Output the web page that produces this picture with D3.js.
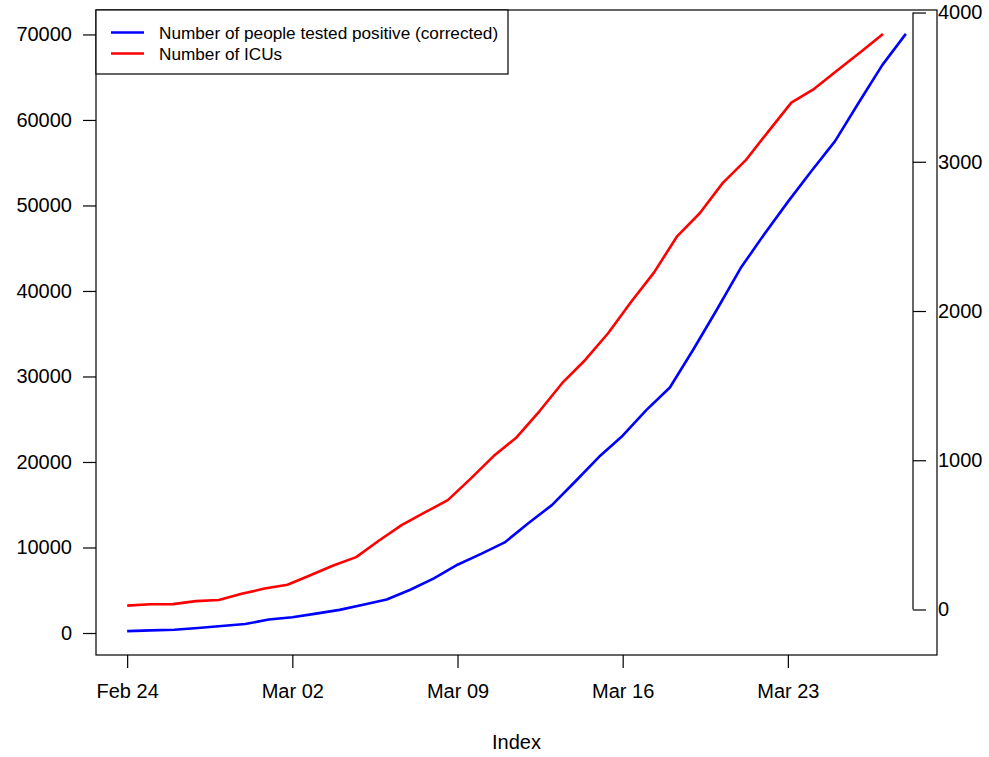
<!DOCTYPE html>
<html><head><meta charset="utf-8">
<script src="https://cdn.jsdelivr.net/npm/d3@7"></script>
<style>
body{margin:0;background:#fff}
svg{display:block;font-family:"Liberation Sans",Arial,Helvetica,sans-serif}
</style></head>
<body>
<svg id="c" width="989" height="757"></svg>
<script>
// ---- data ----
const dates = ["2020-02-24","2020-02-25","2020-02-26","2020-02-27","2020-02-28","2020-02-29",
  "2020-03-01","2020-03-02","2020-03-03","2020-03-04","2020-03-05","2020-03-06","2020-03-07",
  "2020-03-08","2020-03-09","2020-03-10","2020-03-11","2020-03-12","2020-03-13","2020-03-14",
  "2020-03-15","2020-03-16","2020-03-17","2020-03-18","2020-03-19","2020-03-20","2020-03-21",
  "2020-03-22","2020-03-23","2020-03-24","2020-03-25","2020-03-26","2020-03-27","2020-03-28"];
const positives = [221,311,385,588,821,1049,1577,1835,2263,2706,3296,3916,5061,6387,7985,9250,
  10590,12839,14955,17750,20603,23073,26062,28710,33190,37860,42681,46638,50418,54030,57521,
  62013,66414,70065];
const icus = [26,35,36,56,64,105,140,166,229,295,351,462,567,650,733,877,1028,1153,1328,1518,
  1672,1851,2060,2257,2498,2655,2857,3009,3204,3396,3489,3612,3732,3856];
const xTickDates = ["2020-02-24","2020-03-02","2020-03-09","2020-03-16","2020-03-23"];
const xTickLabels = ["Feb 24","Mar 02","Mar 09","Mar 16","Mar 23"];
const leftTicks = [0,10000,20000,30000,40000,50000,60000,70000];
const rightTicks = [0,1000,2000,3000,4000];
const legendLabels = ["Number of people tested positive (corrected)","Number of ICUs"];
const seriesColors = ["#0000ff","#ff0000"];

// ---- layout ----
const L = 96, R = 937, T = 10, B = 655;
const svg = d3.select("#c");
const parse = d3.utcParse("%Y-%m-%d");
const dd = dates.map(parse);
const span = (dd[dd.length-1] - dd[0]);
const x = d3.scaleUtc()
  .domain([new Date(+dd[0] - 0.04*span), new Date(+dd[dd.length-1] + 0.04*span)])
  .range([L, R]);
const yl = d3.scaleLinear().domain([-2573, 72859]).range([B, T]);
// secondary series: own index scale (1..n, xlim extended by one)
const n = icus.length;
const xr = d3.scaleLinear().domain([1 - 0.04*n, (n+1) + 0.04*n]).range([L, R]);
const yr = d3.scaleLinear().domain([-305, 4017]).range([B, T]);

const FS = 20;

// lines
svg.append("path")
  .datum(positives.map((v,i)=>[dd[i], v]))
  .attr("fill","none").attr("stroke",seriesColors[0]).attr("stroke-width",2.6)
  .attr("stroke-linejoin","round")
  .attr("d", d3.line().x(d=>x(d[0])).y(d=>yl(d[1])));
svg.append("path")
  .datum(icus.map((v,i)=>[i+1, v]))
  .attr("fill","none").attr("stroke",seriesColors[1]).attr("stroke-width",2.6)
  .attr("stroke-linejoin","round")
  .attr("d", d3.line().x(d=>xr(d[0])).y(d=>yr(d[1])));

// left axis
const gl = svg.append("g").attr("transform",`translate(${L},0)`)
  .call(d3.axisLeft(yl).tickValues(leftTicks).tickSize(13).tickPadding(11).tickFormat(d3.format("d")));
gl.select(".domain").remove();
gl.selectAll("text").attr("font-size",FS).attr("font-family","Liberation Sans, Arial, sans-serif").attr("fill","#000");
gl.selectAll("line").attr("stroke","#000").attr("stroke-width",1.2);

// bottom axis
const gb = svg.append("g").attr("transform",`translate(0,${B})`)
  .call(d3.axisBottom(x).tickValues(xTickDates.map(parse)).tickSize(13).tickPadding(16)
    .tickFormat((d,i)=>xTickLabels[i]));
gb.select(".domain").remove();
gb.selectAll("text").attr("font-size",FS).attr("font-family","Liberation Sans, Arial, sans-serif").attr("fill","#000");
gb.selectAll("line").attr("stroke","#000").attr("stroke-width",1.2);

// right axis (drawn inside at x=913)
const RX = 913;
const gr = svg.append("g").attr("transform",`translate(${RX},0)`)
  .call(d3.axisRight(yr).tickValues(rightTicks).tickSize(13).tickPadding(12).tickFormat(d3.format("d")));
gr.select(".domain").remove();
gr.append("line").attr("x1",0).attr("x2",0).attr("y1",yr(rightTicks[0])).attr("y2",yr(rightTicks[rightTicks.length-1]))
  .attr("stroke","#000").attr("stroke-width",1.2);
gr.selectAll("text").attr("font-size",FS).attr("font-family","Liberation Sans, Arial, sans-serif").attr("fill","#000");
gr.selectAll("line").attr("stroke","#000").attr("stroke-width",1.2);

// plot box
svg.append("rect").attr("x",L).attr("y",T).attr("width",R-L).attr("height",B-T)
  .attr("fill","none").attr("stroke","#000").attr("stroke-width",1.2);

// x title
svg.append("text").attr("x",(L+R)/2).attr("y",749).attr("text-anchor","middle")
  .attr("font-size",FS).text("Index");

// legend
const lg = svg.append("g");
lg.append("rect").attr("x",L).attr("y",T).attr("width",412).attr("height",64)
  .attr("fill","#fff").attr("stroke","#000").attr("stroke-width",1.2);
legendLabels.forEach((t,i)=>{
  const cy = 32.5 + i*21;
  lg.append("line").attr("x1",111).attr("x2",144).attr("y1",cy).attr("y2",cy)
    .attr("stroke",seriesColors[i]).attr("stroke-width",2.6);
  lg.append("text").attr("x",159).attr("y",cy+6).attr("font-size",17.2).text(t);
});
</script>
</body></html>
